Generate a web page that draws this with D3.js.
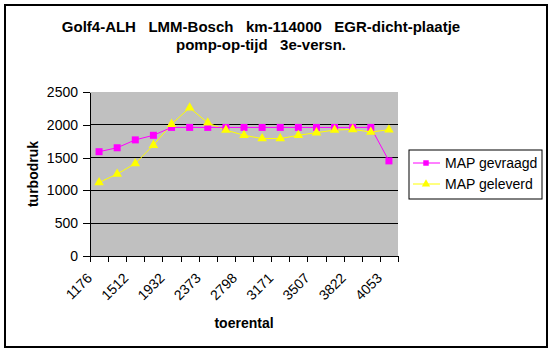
<!DOCTYPE html>
<html>
<head>
<meta charset="utf-8">
<script src="https://cdn.jsdelivr.net/npm/d3@7"></script>
<style>
  body { margin: 0; background: #fff; }
  text { font-family: Arial, "Liberation Sans", sans-serif; }
</style>
</head>
<body>
<div id="chart"></div>
<script>
// toerental categories (odd ones are not labelled in the original)
const rpm = ["1176", "1340", "1512", "1720", "1932", "2150", "2373", "2590", "2798",
             "2990", "3171", "3340", "3507", "3670", "3822", "3940", "4053"];
const mapGevraagd = [1590, 1650, 1770, 1840, 1960, 1960, 1960, 1960, 1960,
                     1960, 1960, 1960, 1960, 1960, 1960, 1960, 1450];
const mapGeleverd = [1120, 1250, 1410, 1690, 2010, 2260, 2030, 1920, 1840,
                     1790, 1790, 1840, 1880, 1920, 1930, 1890, 1925];
const yTicks = [0, 500, 1000, 1500, 2000, 2500];
const titleLines = ["Golf4-ALH   LMM-Bosch   km-114000   EGR-dicht-plaatje",
                    "pomp-op-tijd   3e-versn."];

const W = 552, H = 352;
const plot = {left: 90, right: 398, top: 92, bottom: 256};

const svg = d3.select("#chart").append("svg")
    .attr("width", W)
    .attr("height", H);

// outer frame
svg.append("rect")
    .attr("x", 5).attr("y", 5)
    .attr("width", 542).attr("height", 342)
    .attr("fill", "#fff")
    .attr("stroke", "#000")
    .attr("stroke-width", 2);

const x = d3.scaleBand()
    .domain(rpm)
    .range([plot.left, plot.right])
    .padding(0);

const xIdx = d3.scaleLinear()
    .domain([0, rpm.length])
    .range([plot.left, plot.right]);

const y = d3.scaleLinear()
    .domain([0, 2500])
    .range([plot.bottom, plot.top]);

// plot area
svg.append("rect")
    .attr("x", plot.left).attr("y", plot.top)
    .attr("width", plot.right - plot.left)
    .attr("height", plot.bottom - plot.top)
    .attr("fill", "#c0c0c0");

// gridlines
svg.append("g")
  .selectAll("line")
  .data(yTicks.filter(d => d > 0 && d < 2500))
  .join("line")
    .attr("x1", plot.left).attr("x2", plot.right)
    .attr("y1", d => y(d)).attr("y2", d => y(d))
    .attr("stroke", "#000")
    .attr("shape-rendering", "crispEdges");

// y axis
const yAxis = svg.append("g")
    .attr("transform", `translate(${plot.left},0)`)
    .call(d3.axisLeft(y).tickValues(yTicks).tickFormat(d3.format("d"))
      .tickSize(7).tickSizeOuter(0).tickPadding(5));
yAxis.selectAll("text").attr("font-size", 14).attr("fill", "#000").attr("font-family", null);
yAxis.selectAll("line, path").attr("stroke", "#000").attr("shape-rendering", "crispEdges");

// x axis: tick marks on category boundaries
const xAxis = svg.append("g")
    .attr("transform", `translate(0,${plot.bottom})`)
    .call(d3.axisBottom(xIdx).tickValues(d3.range(rpm.length + 1)).tickFormat("").tickSize(6).tickSizeOuter(0));
xAxis.selectAll("line, path").attr("stroke", "#000").attr("shape-rendering", "crispEdges");

// x labels, every other category, rotated
svg.append("g")
  .selectAll("text")
  .data(rpm.filter((d, i) => i % 2 === 0))
  .join("text")
    .attr("transform", d => `translate(${x(d) + x.bandwidth() / 2 - 6},${plot.bottom + 23}) rotate(-45)`)
    .attr("text-anchor", "end")
    .attr("font-size", 14)
    .text(d => d);

// series lines
const line = vals => d3.line()
    .x((d, i) => x(rpm[i]) + x.bandwidth() / 2)
    .y(d => y(d))(vals);

svg.append("path")
    .attr("d", line(mapGeleverd))
    .attr("fill", "none")
    .attr("stroke", "#ffff00")
    .attr("stroke-width", 1);

svg.append("path")
    .attr("d", line(mapGevraagd))
    .attr("fill", "none")
    .attr("stroke", "#ff00ff")
    .attr("stroke-width", 1);

// markers
svg.append("g")
  .selectAll("rect")
  .data(mapGevraagd)
  .join("rect")
    .attr("x", (d, i) => x(rpm[i]) + x.bandwidth() / 2 - 3.5)
    .attr("y", d => y(d) - 3.5)
    .attr("width", 7).attr("height", 7)
    .attr("fill", "#ff00ff");

const tri = d3.symbol().type(d3.symbolTriangle).size(40);
svg.append("g")
  .selectAll("path")
  .data(mapGeleverd)
  .join("path")
    .attr("transform", (d, i) => `translate(${x(rpm[i]) + x.bandwidth() / 2},${y(d)})`)
    .attr("d", tri)
    .attr("fill", "#ffff00");

// title
svg.append("g")
  .selectAll("text")
  .data(titleLines)
  .join("text")
    .attr("x", 261)
    .attr("y", (d, i) => 32 + i * 18)
    .attr("text-anchor", "middle")
    .attr("font-size", 15)
    .attr("font-weight", "bold")
    .style("white-space", "pre")
    .text(d => d);

// axis titles
svg.append("text")
    .attr("x", (plot.left + plot.right) / 2)
    .attr("y", 328)
    .attr("text-anchor", "middle")
    .attr("font-size", 14)
    .attr("font-weight", "bold")
    .text("toerental");

svg.append("text")
    .attr("transform", `translate(38,${(plot.top + plot.bottom) / 2}) rotate(-90)`)
    .attr("text-anchor", "middle")
    .attr("font-size", 14)
    .attr("font-weight", "bold")
    .text("turbodruk");

// legend
const legend = svg.append("g").attr("transform", "translate(409,150)");
legend.append("rect")
    .attr("width", 133).attr("height", 49)
    .attr("fill", "#fff")
    .attr("stroke", "#000");

const legendItems = [
  {name: "MAP gevraagd", color: "#ff00ff", shape: "square"},
  {name: "MAP geleverd", color: "#ffff00", shape: "triangle"}
];
const li = legend.selectAll("g.item")
  .data(legendItems)
  .join("g")
    .attr("class", "item")
    .attr("transform", (d, i) => `translate(0,${13 + i * 21})`);
li.append("line")
    .attr("x1", 4).attr("x2", 31)
    .attr("stroke", d => d.color);
li.append("path")
    .attr("transform", "translate(17,0)")
    .attr("d", d => d3.symbol().type(d.shape === "square" ? d3.symbolSquare : d3.symbolTriangle).size(30)())
    .attr("fill", d => d.color);
li.append("text")
    .attr("x", 36)
    .attr("y", 5)
    .attr("font-size", 14)
    .text(d => d.name);
</script>
</body>
</html>
